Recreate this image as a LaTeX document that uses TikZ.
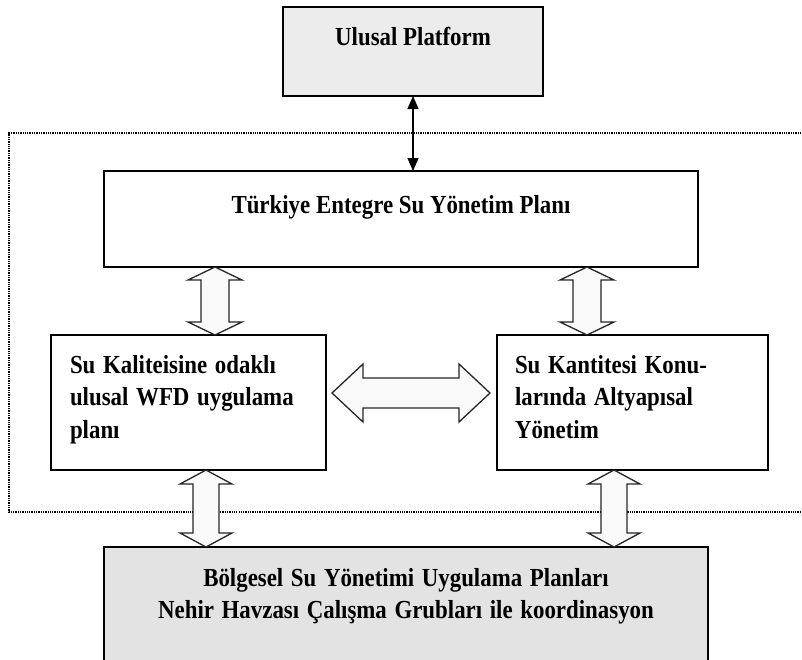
\documentclass[tikz,border=0pt]{standalone}
\usepackage{fontspec}
\setmainfont{Liberation Serif}
\usetikzlibrary{arrows.meta,calc}
\newcommand\sx[1]{\scalebox{0.88}[1]{#1}}
\newcommand\fatv[5]{%
  \draw[fat] let \p1=#1, \p2=#2 in
   (\x1,\y1) -- (\x1+#3pt,\y1-#5pt) -- (\x1+#4pt,\y1-#5pt) -- (\x1+#4pt,\y2+#5pt)
   -- (\x1+#3pt,\y2+#5pt) -- (\x1,\y2) -- (\x1-#3pt,\y2+#5pt) -- (\x1-#4pt,\y2+#5pt)
   -- (\x1-#4pt,\y1-#5pt) -- (\x1-#3pt,\y1-#5pt) -- cycle;}
\newcommand\fath[5]{%
  \draw[fat] let \p1=#1, \p2=#2 in
   (\x1,\y1) -- (\x1+#5pt,\y1+#3pt) -- (\x1+#5pt,\y1+#4pt) -- (\x2-#5pt,\y1+#4pt)
   -- (\x2-#5pt,\y1+#3pt) -- (\x2,\y1) -- (\x2-#5pt,\y1-#3pt) -- (\x2-#5pt,\y1-#4pt)
   -- (\x1+#5pt,\y1-#4pt) -- (\x1+#5pt,\y1-#3pt) -- cycle;}
\begin{document}
\begin{tikzpicture}[x=1pt,y=-1pt,
  txt/.style={font=\bfseries\fontsize{26}{32.5}\selectfont},
  box/.style={txt,draw=black,line width=2pt,inner ysep=0pt,outer sep=0pt},
  fat/.style={draw=black!85,line width=1.3pt,fill=gray!5,line join=miter},
  thinarr/.style={line width=1.3pt,{Triangle[length=13pt,width=11pt]}-{Triangle[length=13pt,width=11pt]}},
  frame/.style={densely dotted,line width=1.3pt}]
\clip (0,0) rectangle (802,659);
\fill[white] (0,0) rectangle (802,659);
% dotted frame
\draw[frame] (815,133) -- (9,133) -- (9,512) -- (815,512);
% boxes
\node[box,fill=gray!15,anchor=north,minimum width=260pt,text height=38pt,text depth=51pt]
  (ulusal) at (413,7) {\sx{Ulusal Platform}};
\node[box,fill=white,anchor=north west,minimum width=594pt,text height=42pt,text depth=54pt]
  (tesp) at (104,171) {\sx{Türkiye Entegre Su Yönetim Planı}};
\node[box,fill=white,anchor=north west,inner xsep=19pt,text width=237pt,align=left,text height=38pt,text depth=97pt]
  (lbox) at (51,335) {\sx{Su Kaliteisine odaklı}\\\sx{ulusal WFD uygulama}\\\sx{planı}};
\node[box,fill=white,anchor=north west,inner xsep=18pt,text width=235pt,align=left,text height=38pt,text depth=97pt]
  (rbox) at (497,335) {\sx{Su Kantitesi Konu-}\\\sx{larında Altyapısal}\\\sx{Yönetim}};
\node[box,fill=gray!22,anchor=north west,inner xsep=0pt,text width=604pt,align=center,text height=39pt,text depth=90pt]
  (bolge) at (104,547) {\sx{Bölgesel Su Yönetimi Uygulama Planları}\\\sx{Nehir Havzası Çalışma Grubları ile koordinasyon}};
% x positions of the fat arrows
\coordinate (xa) at (215,0);
\coordinate (xb) at (587,0);
\coordinate (xc) at (206,0);
\coordinate (xd) at (614,0);
\coordinate (ya) at (0,393);
% connectors
\draw[thinarr] (ulusal.south) -- (ulusal.south |- tesp.north);
\fatv{(tesp.south -| xa)}{(lbox.north -| xa)}{27}{14}{13}
\fatv{(tesp.south -| xb)}{(rbox.north -| xb)}{27}{14}{13}
\fatv{(lbox.south -| xc)}{(bolge.north -| xc)}{26}{13}{14}
\fatv{(rbox.south -| xd)}{(bolge.north -| xd)}{26}{13}{14}
\fath{($(lbox.east |- ya)+(6,0)$)}{($(rbox.west |- ya)+(-7,0)$)}{29}{15}{31}
\end{tikzpicture}
\end{document}
